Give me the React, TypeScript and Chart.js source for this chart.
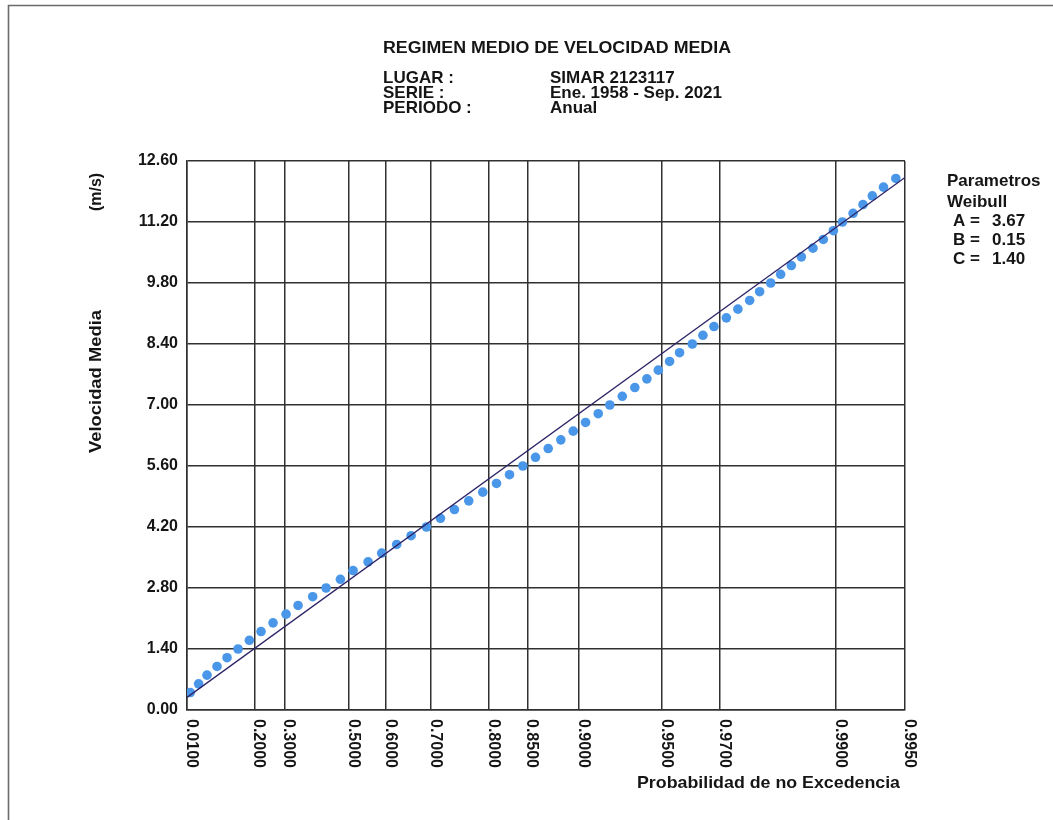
import React, { useEffect, useRef } from "react";
import { Chart, registerables } from "chart.js";
Chart.register(...registerables);

// Weibull shape parameter (defines the probability-paper x axis)
const SHAPE_C = 1.4;
const PARAMS: [string, string][] = [
  ["A =", "3.67"],
  ["B =", "0.15"],
  ["C =", "1.40"],
];

const X_TICKS = [0.01, 0.2, 0.3, 0.5, 0.6, 0.7, 0.8, 0.85, 0.9, 0.95, 0.97, 0.99, 0.995];
const Y_TICKS = [0, 1.4, 2.8, 4.2, 5.6, 7.0, 8.4, 9.8, 11.2, 12.6];

// Empirical points: non-exceedance probability vs velocity (m/s)
const POINT_P = [
  0.01598, 0.03379, 0.05476, 0.08246, 0.11231, 0.14683, 0.1835, 0.22226, 0.2622, 0.30538,
  0.34474, 0.39159, 0.43328, 0.47618, 0.5127, 0.55377, 0.58905, 0.62568, 0.65862, 0.69126,
  0.71896, 0.74471, 0.76906, 0.79104, 0.81091, 0.82826, 0.84459, 0.85894, 0.87216, 0.88419,
  0.89507, 0.90499, 0.91432, 0.92213, 0.9298, 0.93686, 0.94301, 0.94836, 0.95318, 0.95711,
  0.96167, 0.96514, 0.96844, 0.9718, 0.97463, 0.97724, 0.97926, 0.9813, 0.98298, 0.98462,
  0.98603, 0.98751, 0.9887, 0.98976, 0.99063, 0.99157, 0.99236, 0.99304, 0.99378, 0.99451,
];
const POINT_V = [
  0.4, 0.6, 0.8, 1.0, 1.2, 1.4, 1.6, 1.8, 2.0, 2.2,
  2.4, 2.6, 2.8, 3.0, 3.2, 3.4, 3.6, 3.8, 4.0, 4.2,
  4.4, 4.6, 4.8, 5.0, 5.2, 5.4, 5.6, 5.8, 6.0, 6.2,
  6.4, 6.6, 6.8, 7.0, 7.2, 7.4, 7.6, 7.8, 8.0, 8.2,
  8.4, 8.6, 8.8, 9.0, 9.2, 9.4, 9.6, 9.8, 10.0, 10.2,
  10.4, 10.6, 10.8, 11.0, 11.2, 11.4, 11.6, 11.8, 12.0, 12.2,
];

// Fitted Weibull line (end points)
const LINE_P = [0.01, 0.995];
const LINE_V = [0.29, 12.22];

const TITLE = "REGIMEN MEDIO DE VELOCIDAD MEDIA";
const INFO_LABELS = ["LUGAR :", "SERIE :", "PERIODO :"];
const INFO_VALUES = ["SIMAR 2123117", "Ene. 1958 - Sep. 2021", "Anual"];

const T = (p: number) => Math.pow(-Math.log(1 - p), 1 / SHAPE_C);

const FONT = '"Liberation Sans", Arial, Helvetica, sans-serif';
const TEXT = "#151515";
const GRID = "#303030";

function txt(
  ctx: CanvasRenderingContext2D,
  s: string,
  x: number,
  y: number,
  size: number,
  w?: number,
  align: CanvasTextAlign = "left"
) {
  ctx.save();
  ctx.font = `bold ${size}px ${FONT}`;
  ctx.fillStyle = TEXT;
  ctx.textAlign = align;
  ctx.textBaseline = "alphabetic";
  ctx.translate(x, y);
  if (w) {
    const m = ctx.measureText(s).width;
    ctx.scale(w / m, 1);
  }
  ctx.fillText(s, 0, 0);
  ctx.restore();
}

const decorPlugin = {
  id: "decor",
  beforeDraw(chart: any) {
    const ctx = chart.ctx as CanvasRenderingContext2D;
    ctx.save();
    ctx.strokeStyle = "#6b6b6b";
    ctx.lineWidth = 1.6;
    ctx.beginPath();
    ctx.moveTo(8.5, 820);
    ctx.lineTo(8.5, 5.5);
    ctx.lineTo(1053, 5.5);
    ctx.stroke();
    ctx.restore();
  },
  afterDraw(chart: any) {
    const ctx = chart.ctx as CanvasRenderingContext2D;
    const xs = chart.scales.x;
    // header
    txt(ctx, TITLE, 383, 53, 16, 348);
    const baseY = [83, 98, 113];
    INFO_LABELS.forEach((s, i) => txt(ctx, s, 383, baseY[i], 17));
    INFO_VALUES.forEach((s, i) => txt(ctx, s, 550, baseY[i], 17));
    // parameters panel
    txt(ctx, "Parametros", 947, 186, 17);
    txt(ctx, "Weibull", 947, 207, 17);
    const pY = [226, 245, 264];
    PARAMS.forEach(([a, b], i) => {
      txt(ctx, a, 953, pY[i], 17);
      txt(ctx, b, 992, pY[i], 17);
    });
    // x tick labels (rotated clockwise)
    X_TICKS.forEach((p) => {
      const gx = xs.getPixelForValue(T(p));
      ctx.save();
      ctx.font = `bold 16px ${FONT}`;
      ctx.fillStyle = TEXT;
      ctx.translate(gx, 719);
      ctx.rotate(Math.PI / 2);
      ctx.textAlign = "left";
      ctx.textBaseline = "alphabetic";
      ctx.fillText(p.toFixed(4), 0, 0);
      ctx.restore();
    });
    // x title
    txt(ctx, "Probabilidad de no Excedencia", 637, 788, 17, 263);
    // y titles (rotated counter-clockwise)
    ctx.save();
    ctx.translate(101, 381.5);
    ctx.rotate(-Math.PI / 2);
    txt(ctx, "Velocidad Media", 0, 0, 17, 143, "center");
    ctx.restore();
    ctx.save();
    ctx.translate(101, 192);
    ctx.rotate(-Math.PI / 2);
    txt(ctx, "(m/s)", 0, 0, 16, undefined, "center");
    ctx.restore();
  },
};

export default function App() {
  const ref = useRef<HTMLCanvasElement>(null);
  useEffect(() => {
    if (!ref.current) return;
    const chart = new Chart(ref.current, {
      type: "scatter",
      data: {
        datasets: [
          {
            label: "Ajuste",
            data: LINE_P.map((p, i) => ({ x: T(p), y: LINE_V[i] })),
            showLine: true,
            borderColor: "#2d2466",
            borderWidth: 1.3,
            pointRadius: 0,
            pointHoverRadius: 0,
          },
          {
            label: "Datos",
            data: POINT_P.map((p, i) => ({ x: T(p), y: POINT_V[i] })),
            showLine: false,
            pointRadius: 4.8,
            pointBackgroundColor: "#4a97ea",
            pointBorderWidth: 0,
            backgroundColor: "#4a97ea",
            borderColor: "#4a97ea",
          },
        ],
      },
      options: {
        animation: false,
        responsive: false,
        events: [],
        layout: { padding: { left: 0, top: 161, right: 148, bottom: 0 } },
        plugins: { legend: { display: false }, tooltip: { enabled: false }, title: { display: false } },
        scales: {
          x: {
            type: "linear",
            min: T(X_TICKS[0]),
            max: T(X_TICKS[X_TICKS.length - 1]),
            afterBuildTicks: (s: any) => {
              s.ticks = X_TICKS.map((p) => ({ value: T(p) }));
            },
            afterFit: (s: any) => {
              s.height = 110;
            },
            ticks: { display: false },
            grid: { color: GRID, lineWidth: 1.5, drawTicks: false },
            border: { display: true, color: GRID, width: 1.5 },
          },
          y: {
            type: "linear",
            min: 0,
            max: 12.6,
            afterBuildTicks: (s: any) => {
              s.ticks = Y_TICKS.map((v) => ({ value: v }));
            },
            afterFit: (s: any) => {
              s.width = 187;
            },
            ticks: {
              callback: (v: any) => Number(v).toFixed(2),
              font: { family: FONT, size: 16, weight: "bold" },
              color: TEXT,
              padding: 9,
            },
            grid: { color: GRID, lineWidth: 1.5, drawTicks: false },
            border: { display: true, color: GRID, width: 1.5 },
          },
        },
      },
      plugins: [decorPlugin],
    } as any);
    return () => chart.destroy();
  }, []);
  return (
    <div style={{ position: "absolute", left: 0, top: 0, width: 1053, height: 820, background: "#fff" }}>
      <canvas ref={ref} width={1053} height={820} />
    </div>
  );
}
